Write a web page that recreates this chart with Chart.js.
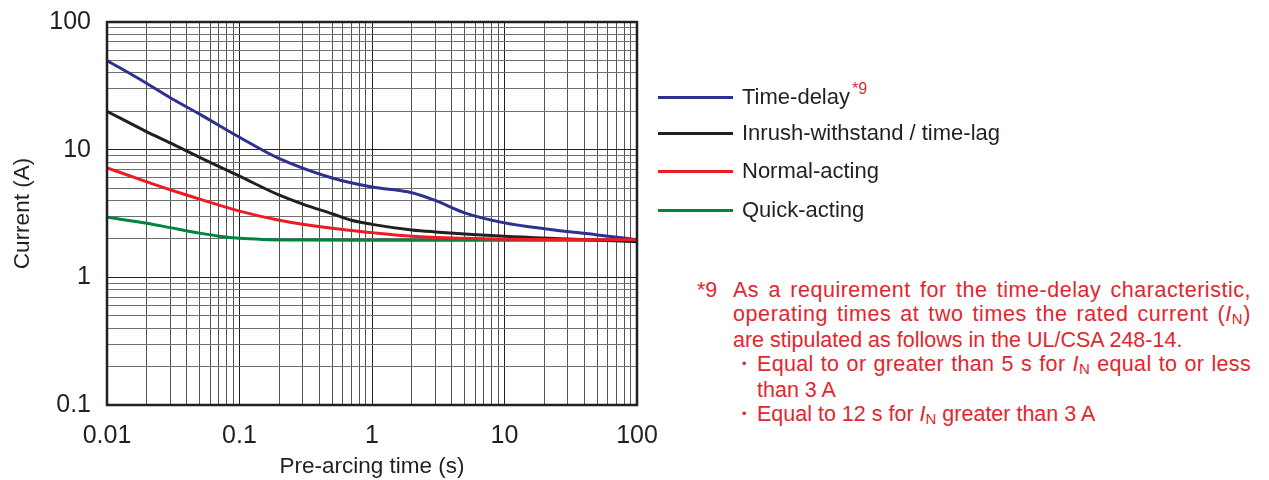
<!DOCTYPE html>
<html>
<head>
<meta charset="utf-8">
<script src="https://cdn.jsdelivr.net/npm/chart.js@4.4.1/dist/chart.umd.min.js"></script>
<style>
  html, body { margin: 0; padding: 0; background: #fff; }
  body { width: 1269px; height: 480px; position: relative; overflow: hidden; font-family: "Liberation Sans", Arial, sans-serif; }
  #wrap { position: absolute; left: 0; top: 0; width: 660px; height: 480px; }
  .leg { position: absolute; left: 658px; height: 30px; }
  .leg .sw { position: absolute; left: 0; width: 75px; height: 3px; top: 14px; }
  .leg .tx { position: absolute; left: 84px; top: 0; font-size: 22px; line-height: 30px; color: #231f20; white-space: nowrap; }
  .sup { color: #e3262e; font-size: 16px; position: relative; top: -10px; margin-left: 2px; }
  #note { position: absolute; left: 697px; top: 278px; width: 560px; color: #e3262e; font-size: 21.5px; line-height: 24px; }
  #note .mark { position: absolute; left: 0; top: 0; }
  #note .para { position: absolute; left: 36px; top: 0; width: 518px; }
  .j { text-align: justify; text-align-last: justify; white-space: nowrap; }
  .l { white-space: nowrap; }
  .bul { position: relative; padding-left: 24px; }
  .bul .dot { position: absolute; left: 0px; top: 0; }
  .ib { font-style: italic; }
  .sub { font-size: 15px; position: relative; top: 3px; }
</style>
</head>
<body>
<div id="wrap"><canvas id="c" width="660" height="480"></canvas></div>
<div id="legend"></div>
<div id="note">
  <div class="mark">*9</div>
  <div class="para">
    <div class="j"><span class="in">As a requirement for the time-delay characteristic,</span></div>
    <div class="j"><span class="in">operating times at two times the rated current (<span class="ib">I</span><span class="sub">N</span>)</span></div>
    <div class="l">are stipulated as follows in the UL/CSA 248-14.</div>
    <div class="bul"><span class="dot">・</span><div class="j"><span class="in">Equal to or greater than 5 s for <span class="ib">I</span><span class="sub">N</span> equal to or less</span></div><div class="l">than 3 A</div></div>
    <div class="bul"><span class="dot">・</span><div class="l">Equal to 12 s for <span class="ib">I</span><span class="sub">N</span> greater than 3 A</div></div>
  </div>
</div>
<script>
// ---- data (pre-arcing time in s, current in A) ----
const seriesNames = ["Time-delay", "Inrush-withstand / time-lag", "Normal-acting", "Quick-acting"];
const timeDelayT = [0.01, 0.02, 0.03, 0.05, 0.1, 0.2, 0.5, 1, 2, 3, 5, 10, 20, 50, 100];
const timeDelayI = [50, 33, 25.5, 19, 12.5, 8.5, 6.0, 5.1, 4.6, 4.0, 3.2, 2.67, 2.4, 2.15, 1.97];
const inrushT = [0.01, 0.02, 0.03, 0.05, 0.1, 0.2, 0.3, 0.5, 0.7, 1, 2, 3, 10, 30, 100];
const inrushI = [20, 13.8, 11.3, 8.7, 6.2, 4.4, 3.75, 3.15, 2.8, 2.6, 2.35, 2.27, 2.1, 2.0, 1.9];
const normalT = [0.01, 0.02, 0.03, 0.05, 0.1, 0.2, 0.5, 1, 2, 5, 10, 100];
const normalI = [7.2, 5.6, 4.85, 4.1, 3.3, 2.8, 2.42, 2.24, 2.1, 2.02, 1.99, 1.97];
const quickT = [0.01, 0.02, 0.03, 0.05, 0.07, 0.1, 0.15, 0.3, 1, 10, 100];
const quickI = [2.95, 2.65, 2.45, 2.22, 2.1, 2.02, 1.98, 1.96, 1.95, 1.95, 1.95];
const xTickLabels = ["0.01", "0.1", "1", "10", "100"];
const yTickLabels = ["0.1", "1", "10", "100"];
const colors = ["#2e3192", "#231f20", "#ed1c24", "#00843f"];

const pts = (t, v) => t.map((x, i) => ({ x: x, y: v[i] }));
const allT = [timeDelayT, inrushT, normalT, quickT];
const allI = [timeDelayI, inrushI, normalI, quickI];
const drawOrder = [1, 2, 0, 3]; // red on top

const isDecade = v => Math.abs(Math.log10(v) - Math.round(Math.log10(v))) < 1e-6;
const fmt = (v, labels) => {
  if (!isDecade(v)) return "";
  const p = Math.round(Math.log10(v));
  return labels.find(l => Math.abs(Math.log10(parseFloat(l)) - p) < 1e-6) || "";
};
// log grid: 1..9 per decade between the first and last labelled decade
const logTicks = labels => {
  const lo = Math.round(Math.log10(parseFloat(labels[0])));
  const hi = Math.round(Math.log10(parseFloat(labels[labels.length - 1])));
  const out = [];
  for (let p = lo; p < hi; p++) for (let m = 1; m <= 9; m++) out.push({ value: parseFloat((m * Math.pow(10, p)).toPrecision(6)) });
  out.push({ value: Math.pow(10, hi) });
  return out;
};

const frame = {
  id: "frame",
  afterDraw(chart) {
    const a = chart.chartArea, ctx = chart.ctx;
    ctx.save();
    ctx.strokeStyle = "#231f20";
    ctx.lineWidth = 2.5;
    ctx.strokeRect(a.left, a.top, a.right - a.left, a.bottom - a.top);
    ctx.restore();
  }
};

const xGrid = ctx => (ctx.tick && isDecade(ctx.tick.value)) ? "#231f20" : "#555555";
const yGrid = ctx => (ctx.tick && isDecade(ctx.tick.value)) ? "#231f20" : "#707070";

new Chart(document.getElementById("c"), {
  type: "line",
  data: {
    datasets: seriesNames.map((n, i) => ({
      label: n,
      data: pts(allT[i], allI[i]),
      borderColor: colors[i],
      backgroundColor: colors[i],
      borderWidth: 3,
      pointRadius: 0,
      cubicInterpolationMode: "monotone",
      fill: false,
      order: drawOrder[i]
    }))
  },
  options: {
    responsive: false,
    animation: false,
    events: [],
    layout: { padding: { left: 0, top: 22, right: 23, bottom: 0 } },
    plugins: { legend: { display: false }, tooltip: { enabled: false } },
    scales: {
      x: {
        type: "logarithmic",
        min: 0.01, max: 100,
        afterBuildTicks: s => { s.ticks = logTicks(xTickLabels); },
        afterFit: s => { s.height = 75; s.paddingLeft = 0; s.paddingRight = 0; },
        grid: { color: xGrid, lineWidth: 1, drawTicks: false },
        border: { display: false },
        ticks: {
          autoSkip: false, maxRotation: 0, padding: 16,
          color: "#231f20",
          font: { family: "Liberation Sans", size: 25 },
          callback: v => fmt(v, xTickLabels)
        },
        title: {
          display: true, text: "Pre-arcing time (s)", color: "#231f20",
          font: { family: "Liberation Sans", size: 22.5 },
          padding: { top: 0, bottom: 0 }
        }
      },
      y: {
        type: "logarithmic",
        min: 0.1, max: 100,
        afterBuildTicks: s => { s.ticks = logTicks(yTickLabels); },
        afterFit: s => { s.width = 107; s.paddingTop = 0; s.paddingBottom = 0; },
        grid: { color: yGrid, lineWidth: 1, drawTicks: false },
        border: { display: false },
        ticks: {
          autoSkip: false, padding: 16,
          color: "#231f20",
          font: { family: "Liberation Sans", size: 25 },
          callback: v => fmt(v, yTickLabels)
        },
        title: {
          display: true, text: "Current (A)", color: "#231f20",
          font: { family: "Liberation Sans", size: 22.5 },
          padding: { top: 9.5, bottom: 0 }
        }
      }
    }
  },
  plugins: [frame]
});

// HTML legend built from the same series names / colours
const legTops = [82, 118, 156, 195];
const lg = document.getElementById("legend");
seriesNames.forEach((n, i) => {
  const d = document.createElement("div");
  d.className = "leg";
  d.style.top = legTops[i] + "px";
  d.innerHTML = '<div class="sw" style="background:' + colors[i] + '"></div><div class="tx">' + n +
    (i === 0 ? '<span class="sup">*9</span>' : '') + '</div>';
  lg.appendChild(d);
});

// justified lines: share the extra width between letters and spaces
document.querySelectorAll(".j").forEach(el => {
  const inner = el.querySelector(".in");
  el.style.textAlignLast = "left";
  el.style.textAlign = "left";
  const target = el.clientWidth;
  const w = inner.getBoundingClientRect().width;
  const n = inner.textContent.length - 1;
  if (w < target && n > 0) inner.style.letterSpacing = ((target - w) * 0.6 / n).toFixed(3) + "px";
  el.style.textAlignLast = "";
  el.style.textAlign = "";
});
</script>
</body>
</html>
